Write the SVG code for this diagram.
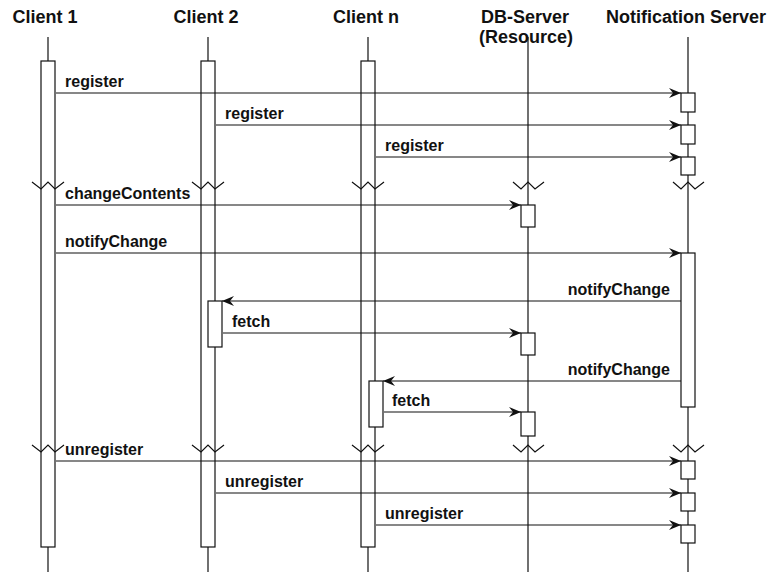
<svg xmlns="http://www.w3.org/2000/svg" width="772" height="573" viewBox="0 0 772 573">
<style>
.hd{font-family:"Liberation Sans",Arial,sans-serif;font-weight:bold;font-size:18px;fill:#111;text-anchor:middle}
.lb{font-family:"Liberation Sans",Arial,sans-serif;font-weight:bold;font-size:16px;fill:#111}
.r{text-anchor:end}
.ll{stroke:#111;stroke-width:1.2;fill:none}
.bx{stroke:#111;stroke-width:1.2;fill:#fff}
.zz{stroke:#111;stroke-width:1.2;fill:none}
.msg{stroke:#111;stroke-width:1.2;fill:none;marker-end:url(#ah)}
</style>
<defs>
<marker id="ah" markerUnits="userSpaceOnUse" markerWidth="14" markerHeight="12" refX="12" refY="5" orient="auto" viewBox="0 0 14 12">
<path d="M0,0 L12,5 L0,10 L4,5 Z" fill="#111"/>
</marker>
</defs>
<rect width="772" height="573" fill="#fff"/>

<g id="client1">
<text class="hd" x="45" y="23">Client 1</text>
<line class="ll" x1="48" y1="37" x2="48" y2="572"/>
<rect class="bx" x="41" y="61" width="14" height="486"/>
</g>
<g id="client2">
<text class="hd" x="206" y="23">Client 2</text>
<line class="ll" x1="208" y1="37" x2="208" y2="572"/>
<rect class="bx" x="201" y="61" width="14" height="486"/>
<rect class="bx" x="208" y="301" width="14" height="46"/>
</g>
<g id="clientn">
<text class="hd" x="366" y="23">Client n</text>
<line class="ll" x1="368" y1="37" x2="368" y2="572"/>
<rect class="bx" x="361" y="61" width="14" height="486"/>
<rect class="bx" x="369" y="381" width="14" height="46"/>
</g>
<g id="dbserver">
<text class="hd" x="525" y="23">DB-Server</text>
<text class="hd" x="526" y="43">(Resource)</text>
<line class="ll" x1="528" y1="37" x2="528" y2="572"/>
<rect class="bx" x="521" y="205" width="14" height="22"/>
<rect class="bx" x="521" y="333" width="14" height="22"/>
<rect class="bx" x="521" y="412" width="14" height="24"/>
</g>
<g id="notificationserver">
<text class="hd" x="686" y="23">Notification Server</text>
<line class="ll" x1="688" y1="37" x2="688" y2="572"/>
<rect class="bx" x="681" y="93" width="14" height="19"/>
<rect class="bx" x="681" y="125" width="14" height="19"/>
<rect class="bx" x="681" y="157" width="14" height="18"/>
<rect class="bx" x="681" y="253" width="14" height="154"/>
<rect class="bx" x="681" y="461" width="14" height="18"/>
<rect class="bx" x="681" y="493" width="14" height="18"/>
<rect class="bx" x="681" y="525" width="14" height="18"/>
</g>

<g id="breaks">
<polyline class="zz" points="32,182 41,189 48,182 55,189 64,182"/>
<polyline class="zz" points="192,182 201,189 208,182 215,189 224,182"/>
<polyline class="zz" points="352,182 361,189 368,182 375,189 384,182"/>
<polyline class="zz" points="513,182 521,189 528,182 535,189 544,182"/>
<polyline class="zz" points="673,182 681,189 688,182 695,189 704,182"/>
<polyline class="zz" points="32,445 41,452 48,445 55,452 64,445"/>
<polyline class="zz" points="192,445 201,452 208,445 215,452 224,445"/>
<polyline class="zz" points="352,445 361,452 368,445 375,452 384,445"/>
<polyline class="zz" points="513,445 521,452 528,445 535,452 544,445"/>
<polyline class="zz" points="673,445 681,452 688,445 695,452 704,445"/>
</g>

<g id="connectors">
<line class="msg" x1="56" y1="93" x2="681" y2="93"/>
<text class="lb" x="65" y="87">register</text>
<line class="msg" x1="216" y1="125" x2="681" y2="125"/>
<text class="lb" x="225" y="119">register</text>
<line class="msg" x1="376" y1="157" x2="681" y2="157"/>
<text class="lb" x="385" y="151">register</text>

<line class="msg" x1="56" y1="205" x2="521" y2="205"/>
<text class="lb" x="65" y="199">changeContents</text>
<line class="msg" x1="56" y1="253" x2="681" y2="253"/>
<text class="lb" x="65" y="247">notifyChange</text>

<line class="msg" x1="681" y1="301" x2="222" y2="301"/>
<text class="lb r" x="670" y="295">notifyChange</text>
<line class="msg" x1="223" y1="333" x2="521" y2="333"/>
<text class="lb" x="232" y="327">fetch</text>

<line class="msg" x1="681" y1="381" x2="383" y2="381"/>
<text class="lb r" x="670" y="375">notifyChange</text>
<line class="msg" x1="384" y1="412" x2="521" y2="412"/>
<text class="lb" x="392" y="406">fetch</text>

<line class="msg" x1="56" y1="461" x2="681" y2="461"/>
<text class="lb" x="65" y="455">unregister</text>
<line class="msg" x1="216" y1="493" x2="681" y2="493"/>
<text class="lb" x="225" y="487">unregister</text>
<line class="msg" x1="376" y1="525" x2="681" y2="525"/>
<text class="lb" x="385" y="519">unregister</text>
</g>
</svg>
